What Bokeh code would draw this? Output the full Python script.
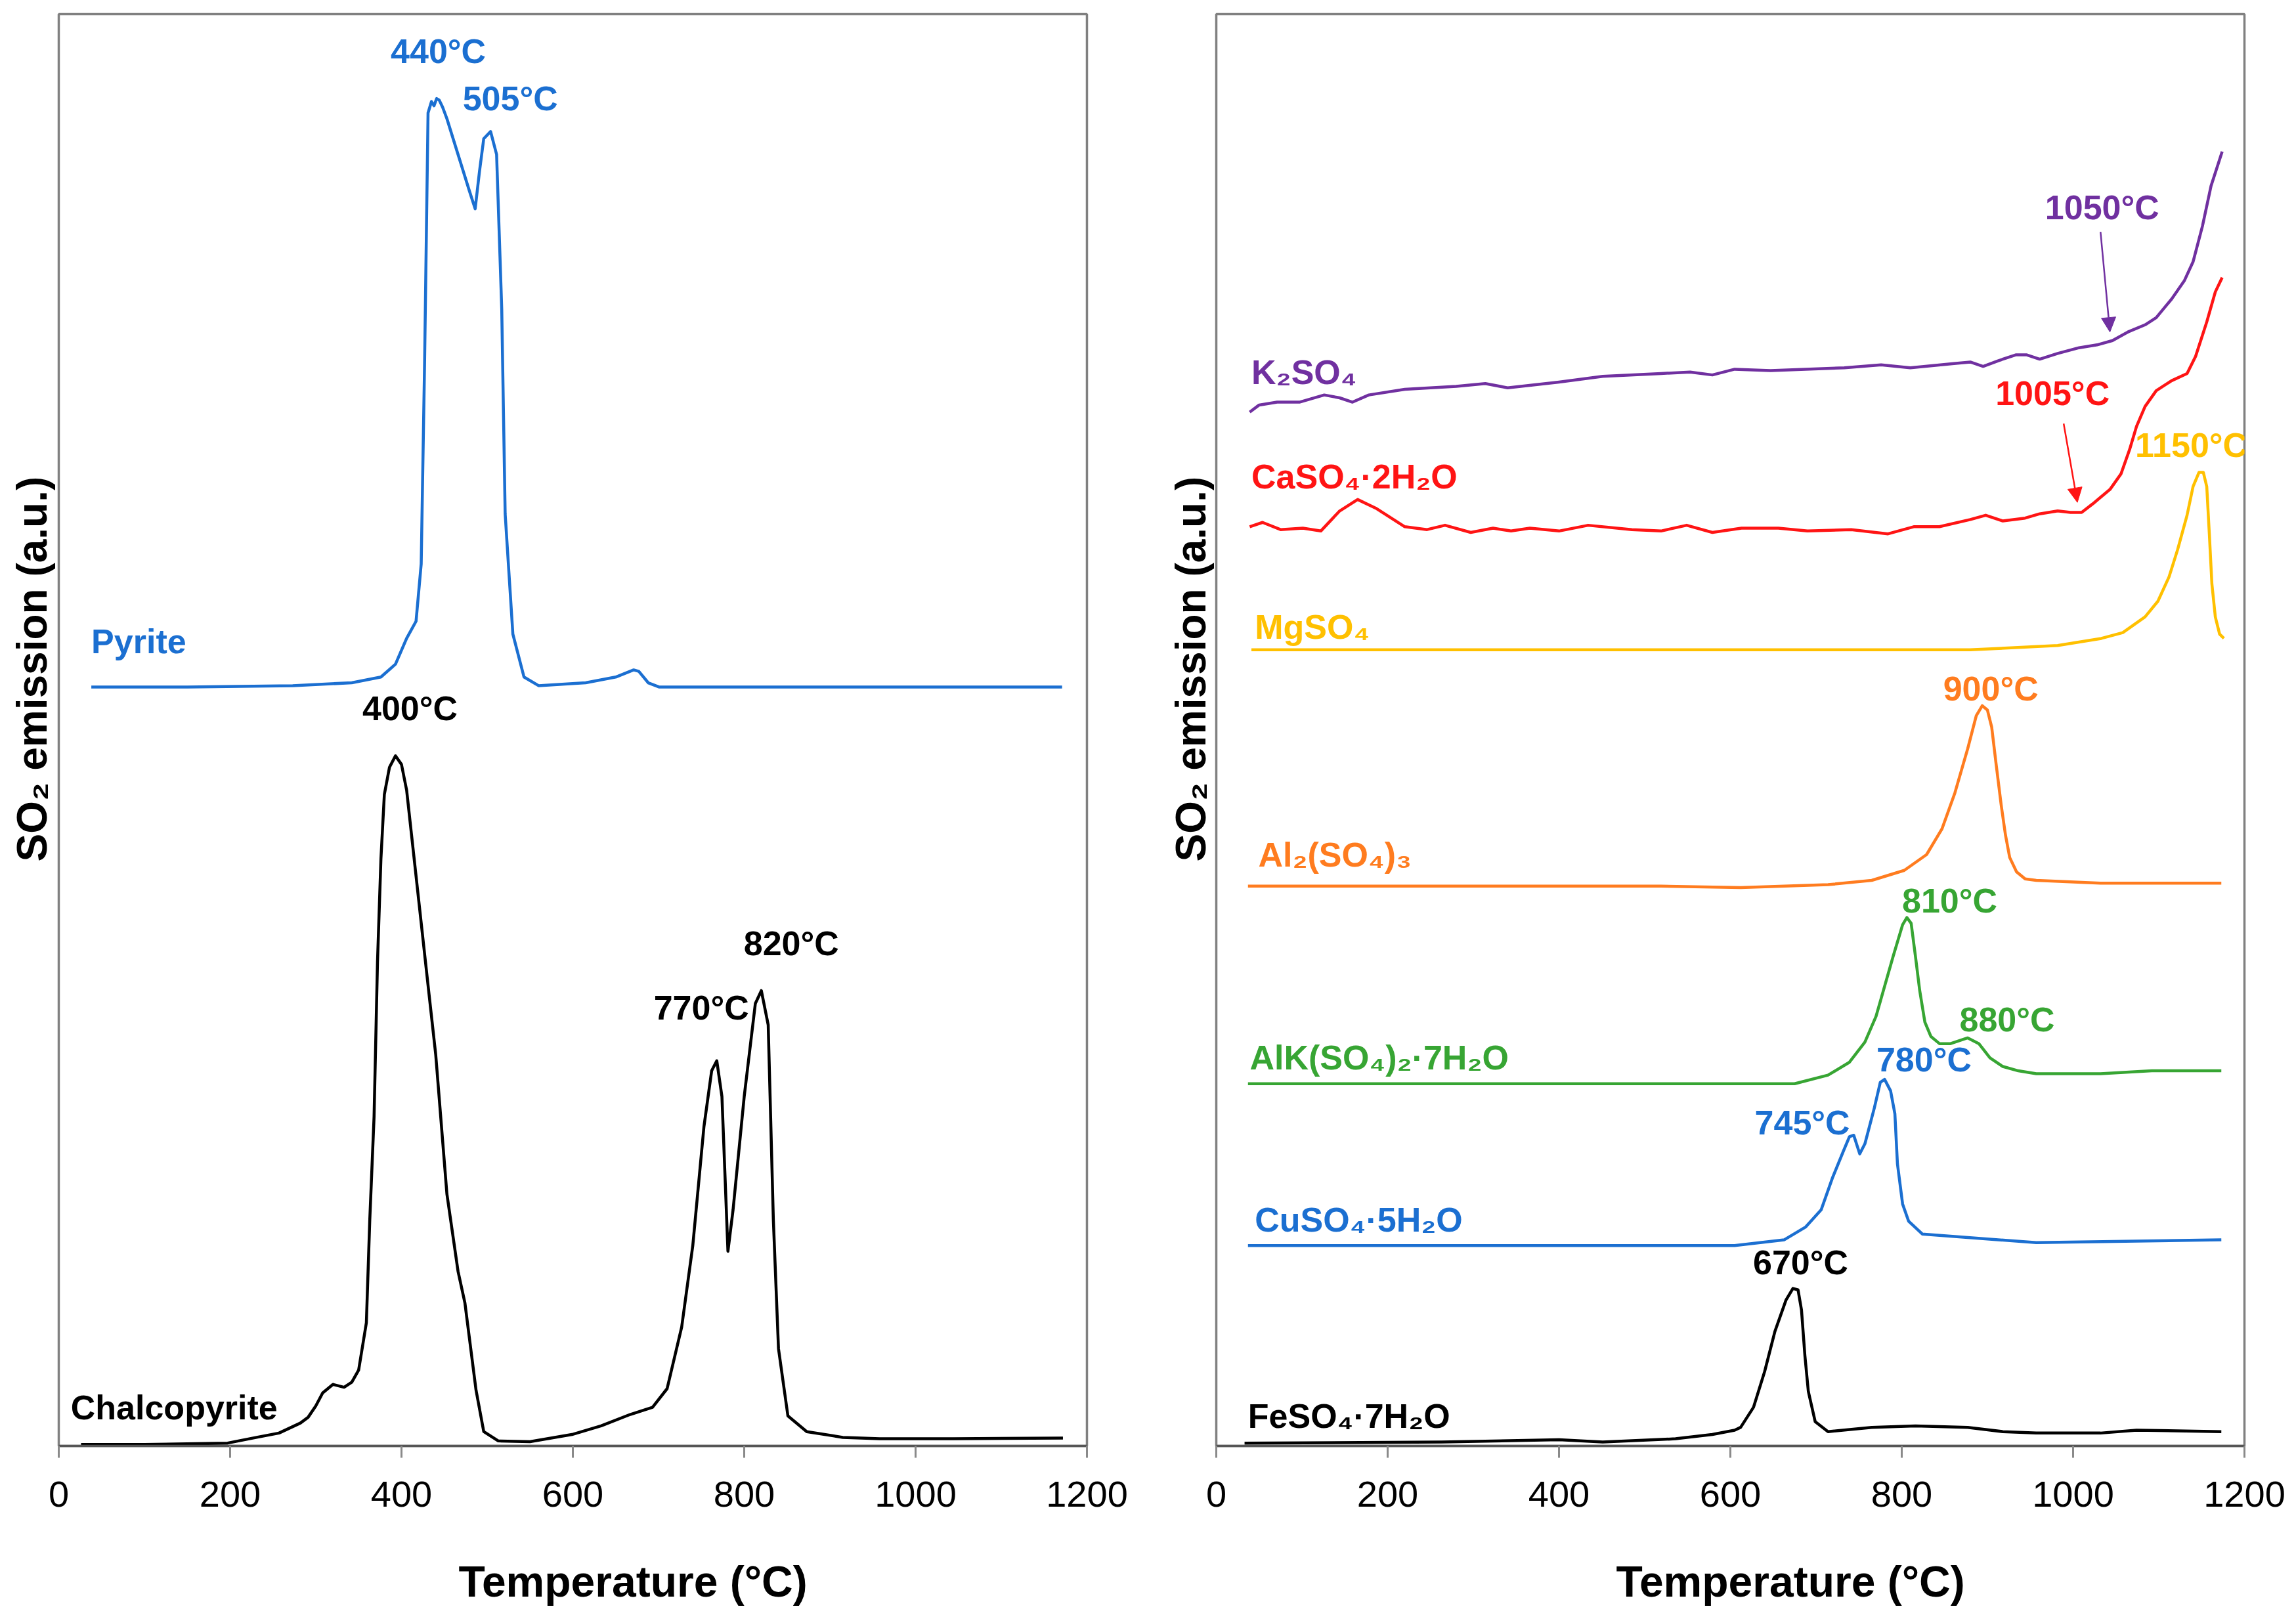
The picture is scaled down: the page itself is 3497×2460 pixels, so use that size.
from bokeh.plotting import figure
from bokeh.layouts import row
from bokeh.models import Range1d, FixedTicker, Arrow, NormalHead, Title, LinearAxis
from bokeh.core.properties import value
from bokeh.embed import file_html
from bokeh.resources import INLINE

# ---- left panel: sulfide minerals (offset curves, a.u.) ----
pyrite_t = [38, 150, 273, 342, 376, 393, 406, 417, 423, 427, 431, 435, 438, 441, 444, 448,
            453, 466, 479, 486, 491, 496, 504, 511, 517, 521, 530, 543, 560, 615, 650, 671,
            677, 688, 701, 800, 1000, 1171]
pyrite_v = [53.0, 53.0, 53.1, 53.3, 53.7, 54.6, 56.4, 57.6, 61.6, 75.8, 93.1, 93.9, 93.6,
            94.1, 94.0, 93.5, 92.7, 90.2, 87.7, 86.4, 89.0, 91.3, 91.8, 90.2, 79.4, 65.1,
            56.7, 53.7, 53.1, 53.3, 53.7, 54.2, 54.1, 53.3, 53.0, 53.0, 53.0, 53.0]

chalco_t = [26, 100, 197, 231, 257, 282, 291, 300, 308, 320, 333, 342, 350, 359, 363, 368,
            372, 376, 380, 386, 393, 400, 406, 428, 440, 453, 466, 474, 487, 496, 513, 550,
            599, 633, 667, 693, 710, 727, 740, 753, 762, 768, 774, 781, 787, 800, 813, 820,
            828, 834, 840, 851, 873, 915, 958, 1044, 1172]
chalco_v = [0.1, 0.1, 0.2, 0.6, 0.9, 1.6, 2.0, 2.8, 3.7, 4.3, 4.1, 4.45, 5.3, 8.6, 15.8,
            23.0, 33.8, 41.0, 45.5, 47.4, 48.2, 47.6, 45.8, 33.8, 27.3, 17.6, 12.2, 10.0,
            3.9, 1.0, 0.35, 0.3, 0.8, 1.4, 2.2, 2.7, 4.0, 8.3, 14.0, 22.3, 26.2, 26.9, 24.4,
            13.6, 16.5, 24.4, 30.9, 31.8, 29.4, 15.8, 6.8, 2.1, 1.0, 0.6, 0.5, 0.5, 0.55]

# ---- right panel: sulfates ----
k2so4_t = [39, 50, 71, 97, 126, 144, 159, 178, 220, 280, 314, 340, 400, 451, 519, 553, 579,
           605, 647, 733, 776, 810, 861, 880, 895, 913, 933, 946, 961, 982, 1007, 1028,
           1046, 1064, 1084, 1097, 1115, 1130, 1140, 1151, 1161, 1174]
k2so4_v = [72.2, 72.7, 72.9, 72.9, 73.4, 73.2, 72.9, 73.4, 73.8, 74.0, 74.2, 73.9, 74.3,
           74.7, 74.9, 75.0, 74.8, 75.2, 75.1, 75.3, 75.5, 75.3, 75.6, 75.7, 75.4, 75.8,
           76.2, 76.2, 75.9, 76.3, 76.7, 76.9, 77.2, 77.8, 78.3, 78.8, 80.1, 81.4, 82.7,
           85.2, 88.0, 90.4]

caso4_t = [39, 54, 75, 101, 122, 144, 165, 186, 220, 246, 267, 297, 323, 344, 366, 400, 434,
           485, 519, 549, 579, 613, 656, 690, 741, 784, 814, 844, 880, 898, 918, 944, 961,
           982, 997, 1010, 1023, 1043, 1056, 1066, 1074, 1084, 1097, 1115, 1133, 1143,
           1156, 1166, 1174]
caso4_v = [64.2, 64.5, 64.0, 64.1, 63.9, 65.3, 66.1, 65.5, 64.2, 64.0, 64.3, 63.8, 64.1,
           63.9, 64.1, 63.9, 64.3, 64.0, 63.9, 64.3, 63.8, 64.1, 64.1, 63.9, 64.0, 63.7,
           64.2, 64.2, 64.7, 65.0, 64.6, 64.8, 65.1, 65.3, 65.2, 65.2, 65.8, 66.8, 67.9,
           69.6, 71.2, 72.6, 73.7, 74.4, 74.9, 76.1, 78.5, 80.6, 81.6]

mgso4_t = [41, 500, 880, 982, 1033, 1058, 1084, 1099, 1112, 1122, 1133, 1140, 1147, 1152,
           1156, 1159, 1162, 1166, 1171, 1176]
mgso4_v = [55.6, 55.6, 55.6, 55.9, 56.4, 56.8, 57.9, 59.0, 60.7, 62.6, 65.0, 67.0, 68.0,
           68.0, 67.0, 63.7, 60.2, 57.9, 56.7, 56.4]

al2so4_t = [37, 519, 612, 714, 765, 803, 829, 847, 862, 877, 887, 894, 900, 905, 910, 916,
            921, 926, 934, 944, 957, 1032, 1173]
al2so4_v = [39.1, 39.1, 39.0, 39.2, 39.5, 40.2, 41.3, 43.1, 45.6, 48.7, 51.0, 51.7, 51.4,
            50.2, 47.7, 44.8, 42.7, 41.1, 40.1, 39.6, 39.5, 39.3, 39.3]

alk_t = [37, 612, 675, 714, 739, 757, 770, 780, 790, 801, 806, 811, 816, 821, 827, 834, 844,
         857, 877, 890, 903, 918, 936, 957, 1032, 1092, 1173]
alk_v = [25.3, 25.3, 25.3, 25.9, 26.8, 28.2, 30.0, 32.1, 34.2, 36.4, 36.9, 36.5, 34.2, 31.8,
         29.6, 28.6, 28.1, 28.1, 28.5, 28.1, 27.1, 26.5, 26.2, 26.0, 26.0, 26.2, 26.2]

cuso4_t = [37, 605, 663, 688, 706, 719, 732, 739, 744, 751, 757, 768, 775, 780, 787, 792,
           795, 801, 808, 824, 867, 957, 1173]
cuso4_v = [14.0, 14.0, 14.4, 15.3, 16.5, 18.7, 20.6, 21.6, 21.7, 20.4, 21.1, 23.6, 25.4,
           25.6, 24.8, 23.2, 19.7, 16.9, 15.7, 14.8, 14.6, 14.2, 14.4]

feso4_t = [33, 263, 400, 451, 536, 579, 605, 612, 627, 640, 652, 665, 673, 679, 683, 687,
           691, 699, 714, 765, 816, 877, 918, 957, 1032, 1074, 1173]
feso4_v = [0.2, 0.27, 0.43, 0.27, 0.5, 0.8, 1.1, 1.3, 2.7, 5.2, 8.0, 10.2, 11.0, 10.9, 9.5,
           6.3, 3.8, 1.7, 1.0, 1.3, 1.4, 1.3, 1.0, 0.9, 0.9, 1.1, 1.0]

# annotations: text, x, y, color, align
left_labels = [
    ("440°C", 443, 97.4, "#1b6fd1", "center"),
    ("505°C", 527, 94.1, "#1b6fd1", "center"),
    ("Pyrite", 38, 56.2, "#1b6fd1", "left"),
    ("400°C", 410, 51.5, "black", "center"),
    ("820°C", 855, 35.1, "black", "center"),
    ("770°C", 750, 30.6, "black", "center"),
    ("Chalcopyrite", 14, 2.7, "black", "left"),
]
right_labels = [
    ("1050°C", 1034, 86.5, "#7030a0", "center"),
    ("K₂SO₄", 41, 75.0, "#7030a0", "left"),
    ("1005°C", 976, 73.5, "#ff1414", "center"),
    ("CaSO₄·2H₂O", 41, 67.7, "#ff1414", "left"),
    ("1150°C", 1138, 69.9, "#ffc000", "center"),
    ("MgSO₄", 45, 57.2, "#ffc000", "left"),
    ("900°C", 904, 52.9, "#ff7c1f", "center"),
    ("Al₂(SO₄)₃", 49, 41.3, "#ff7c1f", "left"),
    ("810°C", 856, 38.1, "#37a533", "center"),
    ("880°C", 923, 29.8, "#37a533", "center"),
    ("AlK(SO₄)₂·7H₂O", 39, 27.1, "#37a533", "left"),
    ("780°C", 826, 27.0, "#1b6fd1", "center"),
    ("745°C", 684, 22.6, "#1b6fd1", "center"),
    ("CuSO₄·5H₂O", 45, 15.8, "#1b6fd1", "left"),
    ("670°C", 682, 12.8, "black", "center"),
    ("FeSO₄·7H₂O", 37, 2.1, "black", "left"),
]
# arrows: x_start, y_start, x_end, y_end, color
right_arrows = [
    (1032, 84.8, 1043, 77.8, "#7030a0"),
    (989, 71.4, 1005, 65.9, "#ff1414"),
]

FONT = "Liberation Sans"


def make_panel(width, border_left, border_right, ylab_standoff):
    p = figure(width=width, height=2455, output_backend="svg", toolbar_location=None,
               x_range=Range1d(0, 1200), y_range=Range1d(0, 100),
               min_border_left=border_left, min_border_right=border_right,
               min_border_top=21, min_border_bottom=253)
    p.grid.visible = False
    p.outline_line_color = "#808080"
    p.outline_line_width = 3.5
    p.background_fill_color = "white"
    p.border_fill_color = "white"

    xa = p.xaxis[0]
    xa.ticker = FixedTicker(ticks=[0, 200, 400, 600, 800, 1000, 1200])
    xa.axis_line_color = "#555555"
    xa.axis_line_width = 3.5
    xa.major_tick_line_color = "#8a8a8a"
    xa.major_tick_line_width = 3
    xa.major_tick_in = 0
    xa.major_tick_out = 18
    xa.minor_tick_line_color = None
    xa.major_label_text_font = FONT
    xa.major_label_text_font_size = "56px"
    xa.major_label_text_color = "black"
    xa.major_label_standoff = 36

    p.yaxis.visible = False

    # blank axis (one white tick, no label) used only as space above the x title
    gap = LinearAxis(ticker=FixedTicker(ticks=[600]), axis_line_color=None,
                     major_tick_line_color="white", minor_tick_line_color=None,
                     major_tick_in=0, major_tick_out=70, major_label_standoff=0,
                     major_label_overrides={600: ""}, major_label_text_color=None,
                     major_label_text_font_size="1px")
    p.add_layout(gap, "below")

    # axis titles are off-centre in the original, so use offset titles
    p.add_layout(Title(text="Temperature (°C)", align="left", offset=609,
                       vertical_align="bottom", standoff=4, text_font=FONT,
                       text_font_style="bold", text_font_size="66px",
                       text_color="black"), "below")
    p.add_layout(Title(text="SO₂ emission (a.u.)", align="left", offset=890,
                       vertical_align="bottom", standoff=ylab_standoff, text_font=FONT,
                       text_font_style="bold", text_font_size="64px",
                       text_color="black"), "left")
    return p


def add_labels(p, labels):
    for txt, x, y, col, align in labels:
        p.text(x=[x], y=[y], text=[txt], text_color=col, text_font=value(FONT),
               text_font_style="bold", text_font_size="52px", text_align=align,
               text_baseline="middle")


left = make_panel(1768, 89, 113, 10)
left.line(pyrite_t, pyrite_v, line_color="#1b6fd1", line_width=4.5, line_join="round")
left.line(chalco_t, chalco_v, line_color="black", line_width=4.5, line_join="round")
add_labels(left, left_labels)

right = make_panel(1722, 84, 72, 6)
for t, v, col in [(k2so4_t, k2so4_v, "#7030a0"), (caso4_t, caso4_v, "#ff1414"),
                  (mgso4_t, mgso4_v, "#ffc000"), (al2so4_t, al2so4_v, "#ff7c1f"),
                  (alk_t, alk_v, "#37a533"), (cuso4_t, cuso4_v, "#1b6fd1"),
                  (feso4_t, feso4_v, "black")]:
    right.line(t, v, line_color=col, line_width=4.5, line_join="round")
add_labels(right, right_labels)
for xs, ys, xe, ye, col in right_arrows:
    right.add_layout(Arrow(end=NormalHead(size=22, fill_color=col, line_color=col),
                           x_start=xs, y_start=ys, x_end=xe, y_end=ye,
                           line_color=col, line_width=2.5))

layout = row(left, right)
open("out.html", "w").write(file_html(layout, INLINE))
